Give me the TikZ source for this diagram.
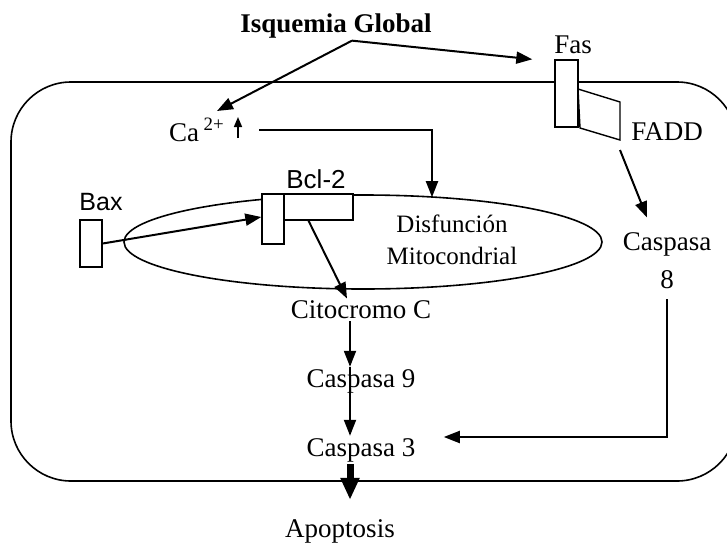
\documentclass[tikz,border=0pt]{standalone}
\usepackage{fontspec}
\setmainfont{Liberation Serif}
\newfontfamily\arialfont{Liberation Sans}
\usetikzlibrary{arrows.meta,shapes.geometric,positioning,calc}

\begin{document}
\begin{tikzpicture}[x=0.5pt,y=-0.5pt]
	\tikzstyle{every node}=[font=\fontsize{13.5}{16}\selectfont, inner sep=1pt]
	\tikzstyle{caja}=[draw, fill=white, line width=0.7pt, inner sep=0pt]
	\tikzstyle{flecha}=[line width=1pt, ->, >={Stealth[inset=0pt,length=8pt,width=6pt]}]
	\useasboundingbox (0,0) rectangle (727,546);
	\clip (0,0) rectangle (727,546);
	% celula y mitocondria
	\draw [line width=0.8pt, rounded corners=30pt] (11,82) rectangle (737,481);
	\node [draw, ellipse, line width=0.8pt, minimum width=239pt, minimum height=47pt, inner sep=0pt] (mito) at (363,242) {};
	\node [align=center, font=\fontsize{12.5}{16}\selectfont] (disf) at (452,240) {Disfunción\\Mitocondrial};
	% receptores
	\node [caja, minimum width=11pt, minimum height=23.5pt] (baxcaja) at (91,243.5) {};
	\node [caja, minimum width=11pt, minimum height=25pt] (bclalta) at (273,219) {};
	\node [caja, minimum width=34.5pt, minimum height=13pt] (bclancha) at (318.5,207) {};
	\node [caja, minimum width=11.5pt, minimum height=33.5pt] (fascaja) at (566.5,93.5) {};
	\draw [line width=0.7pt, fill=white] (578,89) -- (620,102) -- (620,140) coordinate (fadd) -- (580,128) -- cycle;
	% textos
	\node [font=\fontsize{13.5}{16}\selectfont\bfseries] (isq) at (336,26) {Isquemia Global};
	\node (fas) at (573,45) {Fas};
	\node (faddtxt) at (667,132) {FADD};
	\node (ca) at (197,130) {Ca\,\textsuperscript{2+}};
	\node [font=\fontsize{13}{16}\selectfont\arialfont] (bcl) at (316,179) {Bcl-2};
	\node [font=\fontsize{12.5}{16}\selectfont\arialfont] (bax) at (101,202) {Bax};
	\node (cito) at (361,310) {Citocromo C};
	\node (c9) at (361,381) {Caspasa 9};
	\node (c3) at (361,450) {Caspasa 3};
	\node (apop) at (340,531) {Apoptosis};
	\node [align=center, font=\fontsize{13.5}{19}\selectfont] (c8) at (667,261) {Caspasa\\8};
	% flechas
	\draw [line width=0.8pt, ->, >={Stealth[inset=0pt,length=5pt,width=4pt]}] (238,138) coordinate (caup) -- (238,117);
	\draw [flecha] ([xshift=8pt]isq.south) -- ([xshift=10pt,yshift=2.5pt]ca.north);
	\draw [flecha] ([xshift=8pt]isq.south) -- ([xshift=-11pt]fascaja.north west);
	\draw [flecha] ([xshift=16pt]ca.east) -| ([xshift=34.5pt,yshift=-1.5pt]mito.north);
	\draw [flecha] (baxcaja.east) -- ([yshift=1pt]bclalta.west);
	\draw [flecha] ([xshift=-5pt]bclancha.south) -- ([xshift=-7pt]cito.north);
	\draw [flecha] ([yshift=-5pt]fadd) -- ([xshift=-10pt,yshift=6.5pt]c8.north);
	\draw [flecha] ([yshift=-4pt]c8.south) |- ([xshift=13pt,yshift=6.5pt]c3.east);
	\draw [flecha] ([xshift=-5.5pt]cito.south) -- ([xshift=-5.5pt]c9.north);
	\draw [flecha] ([xshift=-5.5pt]c9.north) -- ([xshift=-5.5pt]c3.north);
	\draw [line width=3.5pt, ->, >={Stealth[inset=0pt,length=11pt,width=9pt]}] ([xshift=-5.5pt]c3.south) -- ([xshift=5pt,yshift=8.5pt]apop.north);
\end{tikzpicture}
\end{document}
